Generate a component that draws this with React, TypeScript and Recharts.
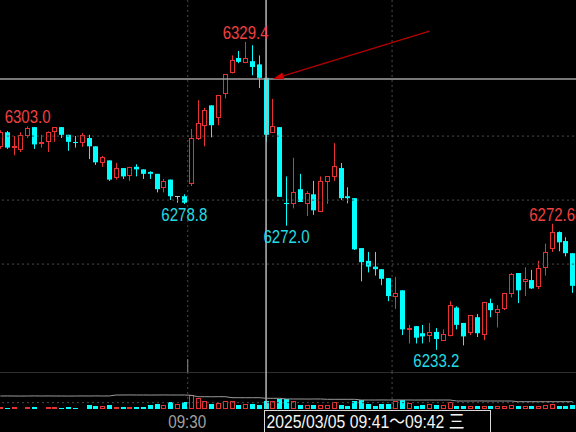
import React from 'react';
import { ComposedChart, Bar, Line, XAxis, YAxis, ReferenceLine, ReferenceDot } from 'recharts';

// one-minute bars: end of previous session, then the 09:30 open
const times = [
  '14:32', '14:33', '14:34', '14:35', '14:36', '14:37', '14:38', '14:39', '14:40', '14:41',
  '14:42', '14:43', '14:44', '14:45', '14:46', '14:47', '14:48', '14:49', '14:50', '14:51',
  '14:52', '14:53', '14:54', '14:55', '14:56', '14:57', '14:58', '14:59', '09:30', '09:31',
  '09:32', '09:33', '09:34', '09:35', '09:36', '09:37', '09:38', '09:39', '09:40', '09:41',
  '09:42', '09:43', '09:44', '09:45', '09:46', '09:47', '09:48', '09:49', '09:50', '09:51',
  '09:52', '09:53', '09:54', '09:55', '09:56', '09:57', '09:58', '09:59', '10:00', '10:01',
  '10:02', '10:03', '10:04', '10:05', '10:06', '10:07', '10:08', '10:09', '10:10', '10:11',
  '10:12', '10:13', '10:14', '10:15', '10:16', '10:17', '10:18', '10:19', '10:20', '10:21',
  '10:22', '10:23', '10:24', '10:25', '10:26',
];

const opens = [
  6296.6, 6301.2, 6296.4, 6295.6, 6300.0, 6302.8, 6297.4, 6298.2, 6301.2, 6302.8,
  6300.4, 6298.0, 6297.8, 6299.4, 6296.8, 6291.6, 6292.4, 6286.8, 6290.0, 6287.4,
  6290.4, 6289.6, 6288.8, 6288.2, 6283.8, 6286.4, 6281.2, 6281.2, 6285.0, 6299.2,
  6303.2, 6309.6, 6305.6, 6313.2, 6319.6, 6324.4, 6322.8, 6323.4, 6322.4, 6318.2,
  6301.0, 6302.8, 6279.2, 6278.8, 6283.4, 6278.8, 6281.8, 6276.4, 6285.6, 6287.2,
  6290.0, 6281.2, 6280.6, 6265.0, 6261.0, 6259.2, 6258.4, 6255.6, 6249.6, 6251.8,
  6239.4, 6240.6, 6238.4, 6237.4, 6238.8, 6236.0, 6237.4, 6246.4, 6241.6, 6238.4,
  6243.4, 6237.8, 6247.8, 6244.8, 6246.0, 6250.6, 6257.2, 6254.4, 6255.0, 6252.8,
  6258.8, 6264.6, 6270.0, 6267.2, 6263.4,
];

const highs = [
  6301.8, 6301.6, 6300.0, 6301.2, 6303.0, 6302.8, 6300.4, 6301.4, 6302.8, 6302.8,
  6300.4, 6300.0, 6301.0, 6300.4, 6296.8, 6293.8, 6292.4, 6291.6, 6290.0, 6290.4,
  6291.2, 6289.6, 6289.0, 6288.2, 6286.6, 6286.4, 6281.2, 6281.8, 6302.2, 6311.2,
  6308.8, 6309.6, 6312.8, 6319.4, 6325.2, 6326.6, 6329.4, 6328.4, 6325.2, 6318.2,
  6311.6, 6302.8, 6287.4, 6293.2, 6288.2, 6282.8, 6286.0, 6287.4, 6287.4, 6297.8,
  6291.6, 6284.0, 6280.6, 6265.0, 6263.8, 6263.8, 6258.4, 6255.6, 6256.0, 6251.8,
  6241.0, 6240.6, 6241.0, 6241.6, 6240.0, 6239.6, 6248.4, 6246.8, 6241.6, 6244.0,
  6244.4, 6248.2, 6249.2, 6247.2, 6251.0, 6257.2, 6257.2, 6259.0, 6258.2, 6261.0,
  6266.4, 6272.6, 6270.2, 6268.4, 6263.4,
];

const lows = [
  6296.0, 6296.0, 6294.0, 6295.0, 6299.4, 6296.0, 6296.4, 6295.0, 6298.2, 6299.4,
  6295.4, 6296.4, 6296.6, 6292.8, 6291.0, 6290.4, 6286.0, 6286.4, 6286.6, 6286.0,
  6287.4, 6286.6, 6286.6, 6282.4, 6282.4, 6280.0, 6279.2, 6278.8, 6284.4, 6298.8,
  6296.8, 6299.6, 6303.4, 6311.8, 6319.6, 6322.8, 6322.8, 6319.0, 6315.0, 6298.2,
  6301.0, 6281.0, 6272.0, 6277.4, 6279.4, 6275.0, 6275.4, 6276.4, 6278.8, 6286.0,
  6280.0, 6279.0, 6264.4, 6254.6, 6257.4, 6256.4, 6253.4, 6248.4, 6246.0, 6237.8,
  6235.2, 6235.2, 6235.2, 6235.6, 6233.2, 6236.0, 6237.4, 6239.6, 6234.6, 6237.8,
  6237.2, 6236.2, 6243.4, 6240.2, 6245.6, 6249.6, 6247.8, 6250.0, 6252.2, 6252.2,
  6256.4, 6263.8, 6264.0, 6262.4, 6251.0,
];

const closes = [
  6301.2, 6296.4, 6296.8, 6300.4, 6302.4, 6297.4, 6298.2, 6301.2, 6302.8, 6300.4,
  6298.2, 6297.8, 6300.4, 6296.8, 6291.8, 6293.4, 6286.4, 6290.0, 6287.4, 6290.4,
  6289.6, 6288.2, 6288.2, 6283.4, 6286.0, 6281.2, 6281.2, 6279.2, 6299.4, 6304.2,
  6308.2, 6303.4, 6312.8, 6319.4, 6323.8, 6323.2, 6324.4, 6321.6, 6318.2, 6300.4,
  6303.2, 6281.0, 6279.0, 6282.4, 6279.4, 6282.2, 6276.8, 6286.0, 6287.4, 6290.6,
  6280.6, 6280.6, 6264.6, 6260.6, 6259.2, 6258.4, 6255.4, 6250.0, 6251.0, 6239.6,
  6240.0, 6237.0, 6237.4, 6238.8, 6236.6, 6238.2, 6247.2, 6241.0, 6237.4, 6244.0,
  6238.4, 6248.2, 6245.6, 6246.0, 6251.0, 6256.8, 6251.8, 6255.4, 6252.4, 6258.8,
  6263.8, 6270.0, 6266.8, 6263.4, 6253.2,
];

const volumes = [
  640, 330, 590, 350, 610, 660, 300, 580, 650, 320,
  600, 290, 340, 1250, 960, 900, 1180, 620, 570, 640,
  600, 580, 1220, 1480, 1260, 2110, 1530, 2050, 4200, 3350,
  2420, 1520, 1840, 2380, 2460, 1230, 1490, 1520, 1180, 2440,
  2360, 3050, 2980, 2410, 1210, 1260, 1190, 1240, 1170, 2080,
  1230, 910, 2390, 2720, 1480, 920, 1510, 1460, 2430, 2690,
  1820, 880, 1230, 1520, 1190, 1240, 2120, 900, 930, 880,
  920, 940, 890, 910, 870, 1220, 930, 880, 910, 950,
  1180, 1520, 890, 920, 1210,
];

const openInterest = [
  245400, 245410, 245400, 245390, 245400, 245420, 245400, 245410, 245400, 245400,
  245390, 245400, 245410, 245400, 245420, 245400, 245410, 245600, 245600, 245610,
  245600, 245600, 245590, 245600, 245610, 245600, 245600, 245600, 245540, 245260,
  245260, 245250, 245260, 245260, 245060, 245060, 245050, 245060, 245060, 244940,
  244940, 244940, 244800, 244800, 244800, 244790, 244800, 244800, 244740, 244740,
  244740, 244740, 244740, 244600, 244600, 244600, 244610, 244600, 244600, 244600,
  244600, 244590, 244600, 244600, 244600, 244600, 244600, 244400, 244400, 244400,
  244410, 244400, 244400, 244400, 244400, 244400, 244260, 244260, 244260, 244260,
  244260, 244260, 244260, 244260, 244260,
];

const highMarks = [
  { time: '14:36', price: 6303.0 },
  { time: '09:38', price: 6329.4 },
  { time: '10:23', price: 6272.6 },
];
const lowMarks = [
  { time: '14:59', price: 6278.8 },
  { time: '09:44', price: 6272.0 },
  { time: '10:06', price: 6233.2 },
];

const priceGrid = [6300, 6280, 6260];
const sessionLines = ['09:30', '10:00'];
const crossTime = '09:41';
const crossPrice = 6317.8;
const crossLabel = '2025/03/05 09:41～09:42 三';

const data = times.map((time, i) => ({
  time,
  open: opens[i],
  high: highs[i],
  low: lows[i],
  close: closes[i],
  vol: volumes[i],
  oi: openInterest[i],
}));

const RED = '#e83232';
const CYAN = '#00ffff';
const GRAY = '#c0c0c0';
const FONT = "'Liberation Sans', 'Noto Sans CJK SC', sans-serif";

function CandleShape(props: any) {
  const { x, y, width, height, payload } = props;
  if (x == null || !payload) return null;
  const { open, close, high, low } = payload;
  const top = Math.min(y, y + height);
  const h = Math.abs(height);
  const span = high - low;
  const py = (v: number) => (span > 0 ? top + ((high - v) / span) * h : top);
  const left = Math.round(x + width / 2 - 2.5);
  const mid = left + 2.5;
  const up = close > open;
  const color = close === open ? GRAY : up ? RED : CYAN;
  const bTop = Math.min(py(open), py(close));
  const bBot = Math.max(py(open), py(close));
  let body;
  if (bBot - bTop < 1.2) {
    const yy = Math.round(bTop) + 0.5;
    body = <line x1={left} x2={left + 5} y1={yy} y2={yy} stroke={color} strokeWidth={1} />;
  } else if (up) {
    const t = Math.round(bTop);
    const b = Math.round(bBot);
    body = <rect x={left + 0.5} y={t + 0.5} width={4} height={Math.max(b - t - 1, 0)} fill="#000" stroke={RED} strokeWidth={1} />;
  } else {
    body = <rect x={left} y={bTop} width={5} height={bBot - bTop} fill={CYAN} />;
  }
  return (
    <g>
      <line x1={mid} x2={mid} y1={top} y2={top + h} stroke={color} strokeWidth={1} />
      {body}
    </g>
  );
}

function VolumeShape(props: any) {
  const { x, y, width, height, payload } = props;
  if (x == null || !payload) return null;
  const left = Math.round(x + width / 2 - 2.5);
  const t = Math.round(Math.min(y, y + height));
  const b = Math.round(Math.max(y, y + height));
  if (payload.close >= payload.open) {
    return <rect x={left + 0.5} y={t + 0.5} width={4} height={Math.max(b - t - 1, 0)} fill="#000" stroke={RED} strokeWidth={1} />;
  }
  return <rect x={left} y={t} width={5} height={b - t} fill={CYAN} />;
}

function highLabel(text: string) {
  return (p: any) => (
    <text x={p.cx} y={p.cy - 3} textAnchor="middle" fill="#f04040" fontSize={18} fontFamily={FONT}
      textLength={46} lengthAdjust="spacingAndGlyphs">
      {text}
    </text>
  );
}

function lowLabel(text: string) {
  return (p: any) => (
    <text x={p.cx} y={p.cy + 17} textAnchor="middle" fill="#22dce4" fontSize={18} fontFamily={FONT}
      textLength={46} lengthAdjust="spacingAndGlyphs">
      {text}
    </text>
  );
}

function Arrow(p: any) {
  const { x1, y1, x2, y2 } = p;
  const ang = Math.atan2(y2 - y1, x2 - x1);
  const len = 11;
  const half = 3.5;
  const bx = x2 - len * Math.cos(ang);
  const by = y2 - len * Math.sin(ang);
  const nx = -Math.sin(ang) * half;
  const ny = Math.cos(ang) * half;
  return (
    <g>
      <line x1={x1} y1={y1} x2={bx} y2={by} stroke="#b40000" strokeWidth={1.5} />
      <polygon points={`${x2},${y2} ${bx + nx},${by + ny} ${bx - nx},${by - ny}`} fill="#d00000" />
    </g>
  );
}

function TimeTick(p: any) {
  const { x, y, payload } = p;
  if (payload.value === '09:30') {
    return (
      <text x={x - 3.9} y={y + 19} textAnchor="middle" fill="#a0a0a0" fontSize={18} fontFamily={FONT}
        textLength={38} lengthAdjust="spacingAndGlyphs">
        09:30
      </text>
    );
  }
  if (payload.value === crossTime) {
    const bx = Math.round(x) - 1.5;
    return (
      <g>
        <rect x={bx} y={y + 1.5} width={226} height={30} fill="#000" stroke="#d8d8d8" strokeWidth={1} />
        <text x={bx + 2} y={y + 19} fill="#f4f4f4" fontSize={18} fontFamily={FONT}
          textLength={198} lengthAdjust="spacingAndGlyphs">
          {crossLabel}
        </text>
      </g>
    );
  }
  return <g />;
}

export default function App() {
  const W = 579;
  return (
    <div style={{ position: 'fixed', left: 0, top: 0, width: 576, height: 432, overflow: 'hidden', background: '#000' }}>
      <div style={{ position: 'absolute', left: -2.7, top: 0 }}>
        <ComposedChart width={W} height={372} data={data} margin={{ top: 0, right: 0, bottom: 0, left: 0 }}>
          <XAxis dataKey="time" hide />
          <YAxis hide domain={[6226.275, 6342.525]} allowDataOverflow />
          {priceGrid.map((v) => (
            <ReferenceLine key={v} y={v} stroke="#4a4a4a" strokeDasharray="2 3" />
          ))}
          {sessionLines.map((t) => (
            <ReferenceLine key={t} x={t} position="start" stroke="#4a4a4a" strokeDasharray="2 3" />
          ))}
          <ReferenceLine
            segment={[{ x: '09:30', y: 6230.3 }, { x: '09:30', y: 6226.275 }]}
            position="start"
            stroke="#8a8a8a"
            ifOverflow="visible"
          />
          <ReferenceLine y={crossPrice} stroke="#a0a0a0" strokeWidth={1.5} />
          <ReferenceLine x={crossTime} stroke="#b8b8b8" strokeWidth={1.5} />
          <Bar dataKey={(d: any) => [d.low, d.high]} barSize={5} shape={CandleShape} isAnimationActive={false} />
          {highMarks.map((m) => (
            <ReferenceDot key={m.time} x={m.time} y={m.price} r={0} shape={highLabel(m.price.toFixed(1))} ifOverflow="visible" />
          ))}
          {lowMarks.map((m) => (
            <ReferenceDot key={m.time} x={m.time} y={m.price} r={0} shape={lowLabel(m.price.toFixed(1))} ifOverflow="visible" />
          ))}
          <ReferenceLine
            segment={[{ x: '10:05', y: 6332.8 }, { x: '09:42', y: 6317.8 }]}
            shape={Arrow}
            ifOverflow="visible"
          />
        </ComposedChart>
      </div>
      <div style={{ position: 'absolute', left: -2.7, top: 372 }}>
        <ComposedChart width={W} height={60} data={data} margin={{ top: 0, right: 0, bottom: 0, left: 0 }}>
          <XAxis
            dataKey="time"
            height={23}
            axisLine={false}
            tickLine={false}
            tickSize={0}
            tickMargin={0}
            interval={0}
            tick={TimeTick}
          />
          <YAxis yAxisId="v" hide domain={[0, 11100]} allowDataOverflow />
          <YAxis yAxisId="oi" hide domain={[242800, 250200]} allowDataOverflow />
          <ReferenceLine yAxisId="v" y={11100} stroke="#5a5a5a" ifOverflow="visible" />
          <ReferenceLine yAxisId="v" y={1900} stroke="#4a4a4a" strokeDasharray="2 3" />
          {sessionLines.map((t) => (
            <ReferenceLine key={t} yAxisId="v" x={t} position="start" stroke="#4a4a4a" strokeDasharray="2 3" />
          ))}
          <ReferenceLine yAxisId="v" x={crossTime} stroke="#b8b8b8" strokeWidth={1.5} />
          <Bar yAxisId="v" dataKey="vol" barSize={5} shape={VolumeShape} isAnimationActive={false} />
          <Line yAxisId="oi" dataKey="oi" type="linear" stroke="#9a9a9a" strokeWidth={1} dot={false} isAnimationActive={false} />
        </ComposedChart>
      </div>
    </div>
  );
}
